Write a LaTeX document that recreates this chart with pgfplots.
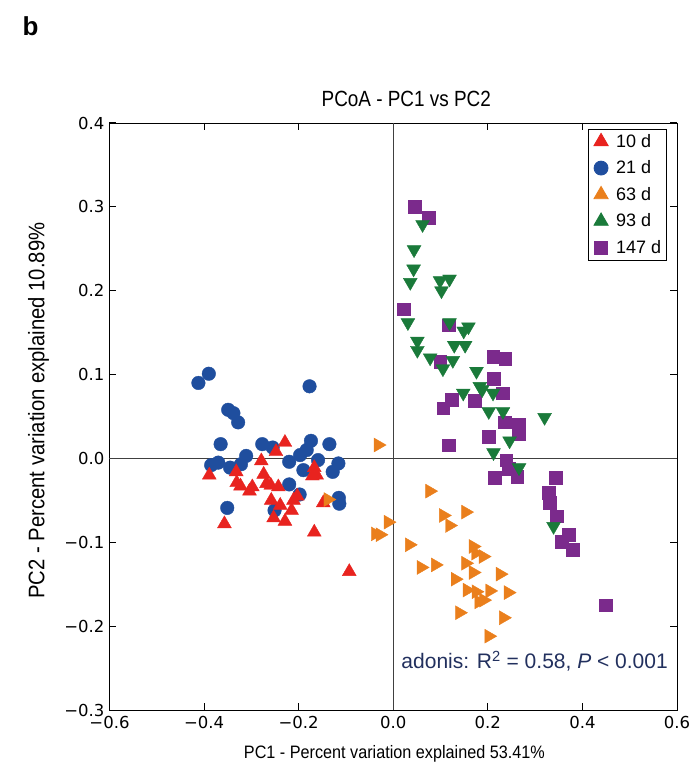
\documentclass[border=0pt]{standalone}
\usepackage{pgfplots}
\pgfplotsset{compat=1.18}
\usepackage{fontspec}
\setmainfont{Liberation Sans}
\newfontfamily\titlefont[FakeStretch=0.86]{Liberation Sans}
\newfontfamily\labelfont[FakeStretch=0.9]{Liberation Sans}
\newfontfamily\tickfont{DejaVu Sans}
\definecolor{cred}{HTML}{E8231F}
\definecolor{cblue}{HTML}{1F4E9E}
\definecolor{corange}{HTML}{EA7F1C}
\definecolor{cgreen}{HTML}{1A7A3A}
\definecolor{cpurple}{HTML}{7B2A8C}
\definecolor{cnavy}{HTML}{22305E}
\begin{document}
\begin{tikzpicture}
\path[use as bounding box] (-109.5pt,-58pt) rectangle (589.5pt,710pt);
\node[anchor=center,font=\fontsize{26}{28}\selectfont\bfseries] at (-79pt,684pt) {b};
\begin{axis}[
  at={(0pt,0pt)}, anchor=south west,
  scale only axis, width=567.5pt, height=587pt,
  xmin=-0.6, xmax=0.6, ymin=-0.3, ymax=0.4,
  xtick={-0.6,-0.4,-0.2,0,0.2,0.4,0.6},
  xticklabels={−0.6,−0.4,−0.2,0.0,0.2,0.4,0.6},
  ytick={-0.3,-0.2,-0.1,0,0.1,0.2,0.3,0.4},
  yticklabels={−0.3,−0.2,−0.1,0.0,0.1,0.2,0.3,0.4},
  tick align=inside, major tick length=7pt,
  tick style={black, line width=1pt},
  axis line style={black, line width=0.9pt},
  ticklabel style={font=\tickfont\fontsize{16.5}{18}\selectfont},
  xticklabel style={yshift=-3pt},
  yticklabel style={xshift=-1.5pt},
  title={PCoA - PC1 vs PC2},
  title style={font=\titlefont\fontsize{22}{24}\selectfont, at={(axis description cs:0.523,1.031)}, anchor=center},
  xlabel={PC1 - Percent variation explained 53.41\%},
  ylabel={PC2 - Percent variation explained 10.89\%},
  xlabel style={font=\labelfont\fontsize{18}{20}\selectfont, at={(axis description cs:0.502,-0.074)}, anchor=center},
  ylabel style={font=\labelfont\fontsize{22.5}{24}\selectfont, at={(axis description cs:-0.1251,0.51)}, anchor=center},
  legend style={at={(0.9815,0.990)}, anchor=north east, draw=black, line width=0.8pt,
    font=\fontsize{18}{20}\selectfont, row sep=8pt, inner sep=3pt,
    legend cell align=left},
  legend image code/.code={\path[draw=none,fill=none] (-3pt,0pt) -- (20pt,0pt); \draw[#1] plot coordinates {(7pt,0pt)};},
  clip=false,
]
\draw[black!75, line width=1pt] (axis cs:0,-0.3) -- (axis cs:0,0.4);
\draw[black!75, line width=1pt] (axis cs:-0.6,0) -- (axis cs:0.6,0);

\addlegendimage{only marks, mark=triangle*, mark size=8.2pt, color=cred}
\addlegendentry{10 d}
\addlegendimage{only marks, mark=*, mark size=7pt, color=cblue}
\addlegendentry{21 d}
\addlegendimage{only marks, mark=triangle*, mark size=8.2pt, color=corange}
\addlegendentry{63 d}
\addlegendimage{only marks, mark=triangle*, mark size=8.2pt, color=cgreen}
\addlegendentry{93 d}
\addlegendimage{only marks, mark=square*, mark size=6.6pt, color=cpurple}
\addlegendentry{147 d}

% 21 d (blue circles)
\addplot[only marks, mark=*, mark size=6.8pt, color=cblue, forget plot] coordinates {
(-0.412,0.090) (-0.390,0.101) (-0.177,0.086) (-0.349,0.058) (-0.338,0.054)
(-0.328,0.043) (-0.365,0.017) (-0.277,0.017) (-0.255,0.013) (-0.174,0.021)
(-0.135,0.017) (-0.311,0.003) (-0.197,0.004) (-0.183,0.010) (-0.385,-0.008)
(-0.370,-0.005) (-0.345,-0.011) (-0.322,-0.007) (-0.220,-0.004) (-0.159,-0.002)
(-0.116,-0.006) (-0.128,-0.016) (-0.190,-0.014) (-0.220,-0.031) (-0.198,-0.043)
(-0.115,-0.047) (-0.114,-0.054) (-0.351,-0.059) (-0.251,-0.062)
};
% 10 d (red triangles)
\addplot[only marks, mark=triangle*, mark size=8pt, color=cred, forget plot] coordinates {
(-0.229,0.019) (-0.248,0.008) (-0.279,-0.003) (-0.389,-0.020) (-0.332,-0.016)
(-0.331,-0.029) (-0.323,-0.033) (-0.304,-0.039) (-0.298,-0.034) (-0.274,-0.019)
(-0.268,-0.030) (-0.259,-0.032) (-0.243,-0.034) (-0.167,-0.011) (-0.171,-0.021)
(-0.162,-0.020) (-0.258,-0.050) (-0.239,-0.056) (-0.215,-0.062) (-0.211,-0.050)
(-0.203,-0.045) (-0.148,-0.053) (-0.253,-0.071) (-0.229,-0.075) (-0.357,-0.078)
(-0.167,-0.088) (-0.093,-0.135)
};
% 63 d (orange right triangles)
\addplot[only marks, mark=triangle*, mark size=8pt, color=corange, forget plot,
  every mark/.append style={rotate=-90}] coordinates {
(-0.032,0.016) (-0.138,-0.049) (-0.011,-0.076) (-0.038,-0.090) (-0.028,-0.091)
(0.077,-0.039) (0.106,-0.068) (0.119,-0.080) (0.153,-0.064) (0.034,-0.103)
(0.169,-0.105) (0.174,-0.113) (0.190,-0.117) (0.059,-0.130) (0.089,-0.127)
(0.153,-0.125) (0.169,-0.136) (0.226,-0.138) (0.131,-0.144) (0.156,-0.157)
(0.175,-0.159) (0.204,-0.158) (0.243,-0.160) (0.181,-0.171) (0.191,-0.169)
(0.140,-0.184) (0.233,-0.190) (0.202,-0.212)
};
% 147 d (purple squares)
\addplot[only marks, mark=square*, mark size=6.3pt, color=cpurple, forget plot] coordinates {
(0.045,0.300) (0.075,0.287) (0.022,0.178) (0.117,0.159) (0.099,0.115)
(0.211,0.121) (0.237,0.119) (0.212,0.095) (0.231,0.078) (0.124,0.070)
(0.172,0.069) (0.106,0.060) (0.236,0.043) (0.265,0.041) (0.265,0.029)
(0.202,0.026) (0.117,0.016) (0.239,-0.002) (0.244,-0.012) (0.262,-0.022)
(0.214,-0.023) (0.343,-0.023) (0.329,-0.041) (0.331,-0.053) (0.346,-0.069)
(0.371,-0.091) (0.356,-0.099) (0.380,-0.109) (0.449,-0.175)
};
% 93 d (green down triangles)
\addplot[only marks, mark=triangle*, mark size=8pt, color=cgreen, forget plot,
  every mark/.append style={rotate=180}] coordinates {
(0.062,0.279) (0.044,0.249) (0.043,0.226) (0.036,0.210) (0.099,0.212)
(0.119,0.214) (0.102,0.200) (0.031,0.162) (0.119,0.162) (0.159,0.157)
(0.149,0.152) (0.051,0.140) (0.051,0.129) (0.129,0.135) (0.152,0.135)
(0.078,0.120) (0.105,0.107) (0.126,0.117) (0.176,0.104) (0.183,0.086)
(0.148,0.078) (0.211,0.078) (0.188,0.082) (0.202,0.056) (0.232,0.056)
(0.320,0.049) (0.246,0.021) (0.212,0.007) (0.266,-0.011) (0.339,-0.081)
};
\node[anchor=east, text=cnavy, font=\fontsize{21}{23}\selectfont] at (axis cs:0.588,-0.242)
  {adonis: R\textsuperscript{2} = 0.58, \textit{P} < 0.001};
\end{axis}
\end{tikzpicture}
\end{document}
